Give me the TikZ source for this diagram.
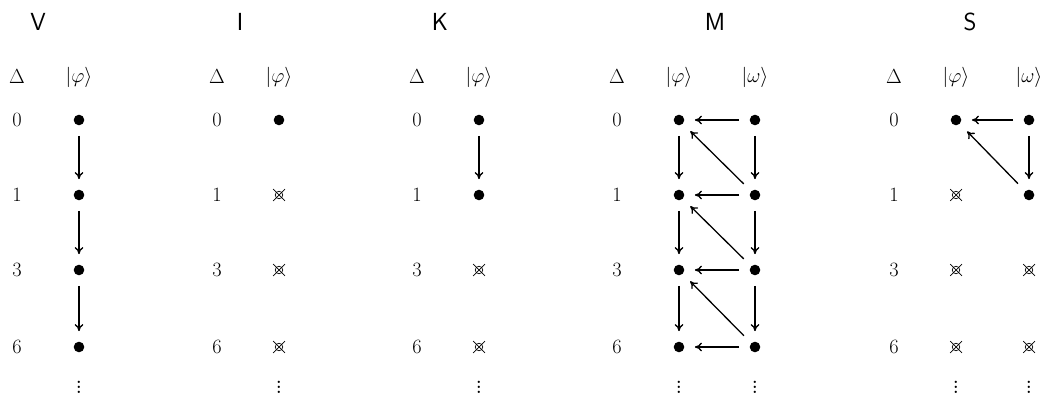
\documentclass[tikz,border=0pt]{standalone}
\usetikzlibrary{arrows.meta}
\tikzset{
  title/.style={font=\sffamily\fontsize{21}{24}\selectfont},
  lbl/.style={font=\fontsize{17}{20}\selectfont},
  ket/.style={circle, fill=black, inner sep=0pt, minimum size=9pt, outer sep=9pt},
  flow/.style={-{To[length=6pt,width=7.5pt]}, line width=1.1pt},
  lost/.pic={
    \draw[line width=0.6pt] (0,0) circle (3.2pt);
    \draw[line width=0.6pt] (-5pt,-5pt) -- (5pt,5pt) (-5pt,5pt) -- (5pt,-5pt);
  },
}
\begin{document}
\begin{tikzpicture}[x=0.85pt,y=-0.85pt]
  \useasboundingbox (0,0) rectangle (1043,406);

  % panel titles
  \foreach \t/\x in {V/38,I/240,K/440,M/715,S/970}
    \node[title] (t\t) at (\x,22) {\t};

  % Delta column with the levels
  \foreach \p/\x in {V/17,I/217,K/417,M/617,S/894} {
    \node[lbl] (d\p) at (\x,77) {$\Delta$};
    \foreach \n/\y in {0/120,1/195,3/270,6/347}
      \node[lbl] (n\p\n) at (\x,\y) {$\n$};
  }

  % ket headers and vertical ellipses
  \foreach \c/\x/\k in {Vf/79/\varphi,If/279/\varphi,Kf/479/\varphi,Mf/679/\varphi,
                        Mw/755/\omega,Sf/956/\varphi,Sw/1029/\omega} {
    \node[lbl] (h\c) at (\x,77) {$|\k\rangle$};
    \node[font=\fontsize{24}{26}\selectfont,inner sep=0pt] (e\c) at (\x,384) {$\vdots$};
  }

  % V: all levels present
  \foreach \n/\y in {0/120,1/195,3/270,6/347}
    \node[ket] (Vf\n) at (79,\y) {};
  \draw[flow] (Vf0) -- (Vf1);
  \draw[flow] (Vf1) -- (Vf3);
  \draw[flow] (Vf3) -- (Vf6);

  % I: only ground level
  \node[ket] (If0) at (279,120) {};
  \foreach \y in {195,270,347}
    \pic at (279,\y) {lost};

  % K: two levels
  \node[ket] (Kf0) at (479,120) {};
  \node[ket] (Kf1) at (479,195) {};
  \draw[flow] (Kf0) -- (Kf1);
  \foreach \y in {270,347}
    \pic at (479,\y) {lost};

  % M: two full towers
  \foreach \n/\y in {0/120,1/195,3/270,6/347} {
    \node[ket] (Mf\n) at (679,\y) {};
    \node[ket] (Mw\n) at (755,\y) {};
    \draw[flow] (Mw\n) -- (Mf\n);
  }
  \foreach \a/\b in {0/1,1/3,3/6} {
    \draw[flow] (Mf\a) -- (Mf\b);
    \draw[flow] (Mw\a) -- (Mw\b);
    \draw[flow] (Mw\b) -- (Mf\a);
  }

  % S: truncated towers
  \node[ket] (Sf0) at (956,120) {};
  \node[ket] (Sw0) at (1029,120) {};
  \node[ket] (Sw1) at (1029,195) {};
  \draw[flow] (Sw0) -- (Sf0);
  \draw[flow] (Sw0) -- (Sw1);
  \draw[flow] (Sw1) -- (Sf0);
  \foreach \y in {195,270,347}
    \pic at (956,\y) {lost};
  \foreach \y in {270,347}
    \pic at (1029,\y) {lost};
\end{tikzpicture}
\end{document}
